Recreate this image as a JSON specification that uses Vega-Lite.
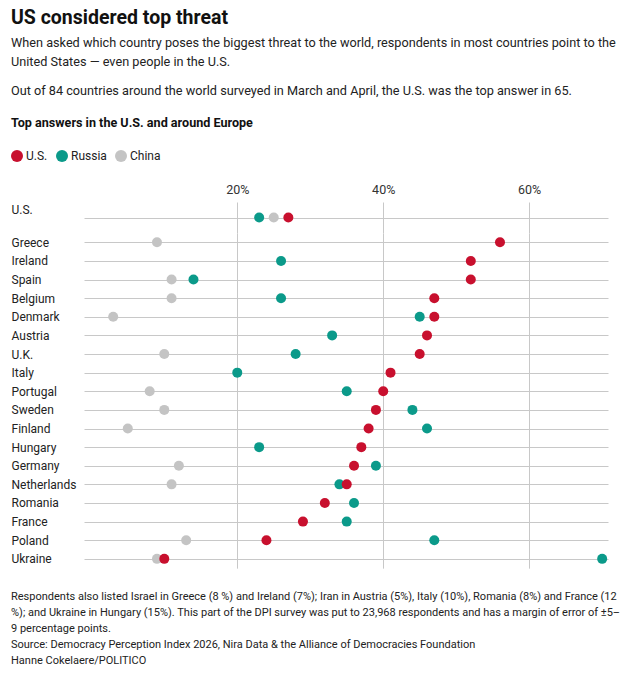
{
  "$schema": "https://vega.github.io/schema/vega-lite/v6.json",
  "padding": {"left": 11, "top": 8, "right": 10, "bottom": 4},
  "title": {
    "text": "US considered top threat",
    "subtitle": [
      "When asked which country poses the biggest threat to the world, respondents in most countries point to the",
      "United States — even people in the U.S."
    ],
    "anchor": "start",
    "frame": "bounds",
    "font": "Roboto",
    "fontSize": 19.5,
    "fontWeight": "bold",
    "color": "#111111",
    "subtitleFont": "Roboto",
    "subtitleFontSize": 12.7,
    "subtitleColor": "#222222",
    "subtitleLineHeight": 19.5,
    "subtitlePadding": 8,
    "offset": 15
  },
  "datasets": {
    "threats": [
      {"country": "U.S.", "threat": "Russia", "pct": 23},
      {"country": "U.S.", "threat": "China", "pct": 25},
      {"country": "U.S.", "threat": "U.S.", "pct": 27},
      {"country": "Greece", "threat": "China", "pct": 9},
      {"country": "Greece", "threat": "U.S.", "pct": 56},
      {"country": "Ireland", "threat": "Russia", "pct": 26},
      {"country": "Ireland", "threat": "U.S.", "pct": 52},
      {"country": "Spain", "threat": "China", "pct": 11},
      {"country": "Spain", "threat": "Russia", "pct": 14},
      {"country": "Spain", "threat": "U.S.", "pct": 52},
      {"country": "Belgium", "threat": "China", "pct": 11},
      {"country": "Belgium", "threat": "Russia", "pct": 26},
      {"country": "Belgium", "threat": "U.S.", "pct": 47},
      {"country": "Denmark", "threat": "China", "pct": 3},
      {"country": "Denmark", "threat": "Russia", "pct": 45},
      {"country": "Denmark", "threat": "U.S.", "pct": 47},
      {"country": "Austria", "threat": "Russia", "pct": 33},
      {"country": "Austria", "threat": "U.S.", "pct": 46},
      {"country": "U.K.", "threat": "China", "pct": 10},
      {"country": "U.K.", "threat": "Russia", "pct": 28},
      {"country": "U.K.", "threat": "U.S.", "pct": 45},
      {"country": "Italy", "threat": "Russia", "pct": 20},
      {"country": "Italy", "threat": "U.S.", "pct": 41},
      {"country": "Portugal", "threat": "China", "pct": 8},
      {"country": "Portugal", "threat": "Russia", "pct": 35},
      {"country": "Portugal", "threat": "U.S.", "pct": 40},
      {"country": "Sweden", "threat": "China", "pct": 10},
      {"country": "Sweden", "threat": "Russia", "pct": 44},
      {"country": "Sweden", "threat": "U.S.", "pct": 39},
      {"country": "Finland", "threat": "China", "pct": 5},
      {"country": "Finland", "threat": "Russia", "pct": 46},
      {"country": "Finland", "threat": "U.S.", "pct": 38},
      {"country": "Hungary", "threat": "Russia", "pct": 23},
      {"country": "Hungary", "threat": "U.S.", "pct": 37},
      {"country": "Germany", "threat": "China", "pct": 12},
      {"country": "Germany", "threat": "Russia", "pct": 39},
      {"country": "Germany", "threat": "U.S.", "pct": 36},
      {"country": "Netherlands", "threat": "China", "pct": 11},
      {"country": "Netherlands", "threat": "Russia", "pct": 34},
      {"country": "Netherlands", "threat": "U.S.", "pct": 35},
      {"country": "Romania", "threat": "Russia", "pct": 36},
      {"country": "Romania", "threat": "U.S.", "pct": 32},
      {"country": "France", "threat": "Russia", "pct": 35},
      {"country": "France", "threat": "U.S.", "pct": 29},
      {"country": "Poland", "threat": "China", "pct": 13},
      {"country": "Poland", "threat": "Russia", "pct": 47},
      {"country": "Poland", "threat": "U.S.", "pct": 24},
      {"country": "Ukraine", "threat": "China", "pct": 9},
      {"country": "Ukraine", "threat": "Russia", "pct": 70},
      {"country": "Ukraine", "threat": "U.S.", "pct": 10}
    ]
  },
  "vconcat": [
    {
      "title": {
        "text": "Out of 84 countries around the world surveyed in March and April, the U.S. was the top answer in 65.",
        "subtitle": "Top answers in the U.S. and around Europe",
        "anchor": "start",
        "frame": "bounds",
        "font": "Roboto",
        "fontSize": 12.7,
        "fontWeight": "normal",
        "color": "#222222",
        "subtitleFont": "Roboto",
        "subtitleFontSize": 12.6,
        "subtitleFontWeight": "bold",
        "subtitleColor": "#111111",
        "subtitlePadding": 20,
        "offset": 20
      },
      "width": 524,
      "height": 31,
      "data": {"name": "threats"},
      "transform": [{"filter": "datum.country === 'U.S.'"}],
      "mark": {"type": "circle", "size": 100, "opacity": 1},
      "encoding": {
        "x": {
          "field": "pct",
          "type": "quantitative",
          "scale": {"domain": [-1, 70.8], "nice": false, "zero": false},
          "axis": {
            "orient": "top",
            "values": [20, 40, 60],
            "labelExpr": "datum.value + '%'",
            "ticks": false,
            "domain": false,
            "grid": true,
            "gridColor": "#c8c8c8",
            "labelPadding": 6,
            "labelFont": "Roboto",
            "labelFontSize": 12.5,
            "labelColor": "#333333",
            "title": null
          }
        },
        "y": {
          "field": "country",
          "type": "nominal",
          "scale": {"type": "point", "padding": 0.5},
          "axis": {
            "labelAlign": "left",
            "labelPadding": 73,
            "labelOffset": -8,
            "labelFont": "Roboto",
            "labelFontSize": 12,
            "labelColor": "#222222",
            "ticks": false,
            "domain": false,
            "grid": true,
            "gridColor": "#c8c8c8",
            "title": null
          }
        },
        "color": {
          "field": "threat",
          "type": "nominal",
          "scale": {"domain": ["U.S.", "Russia", "China"], "range": ["#c8102e", "#0b9a8a", "#c4c4c4"]},
          "legend": {
            "orient": "none",
            "legendX": -73,
            "legendY": -52,
            "direction": "horizontal",
            "title": null,
            "symbolType": "circle",
            "symbolSize": 144,
            "symbolStrokeWidth": 0,
            "symbolOpacity": 1,
            "labelFont": "Roboto",
            "labelFontSize": 12,
            "labelColor": "#222222",
            "labelOffset": 3,
            "columnPadding": 8
          }
        }
      }
    },
    {
      "title": {
        "text": [
          "Respondents also listed Israel in Greece (8 %) and Ireland (7%); Iran in Austria (5%), Italy (10%), Romania (8%) and France (12",
          "%); and Ukraine in Hungary (15%). This part of the DPI survey was put to 23,968 respondents and has a margin of error of ±5–",
          "9 percentage points.",
          "Source: Democracy Perception Index 2026, Nira Data & the Alliance of Democracies Foundation",
          "Hanne Cokelaere/POLITICO"
        ],
        "orient": "bottom",
        "anchor": "start",
        "frame": "bounds",
        "font": "Roboto",
        "fontSize": 11,
        "fontWeight": "normal",
        "color": "#222222",
        "lineHeight": 16,
        "offset": 23
      },
      "width": 524,
      "height": {"step": 18.62},
      "data": {"name": "threats"},
      "transform": [{"filter": "datum.country !== 'U.S.'"}],
      "mark": {"type": "circle", "size": 100, "opacity": 1},
      "encoding": {
        "x": {
          "field": "pct",
          "type": "quantitative",
          "scale": {"domain": [-1, 70.8], "nice": false, "zero": false},
          "axis": {
            "values": [20, 40, 60],
            "labels": false,
            "ticks": false,
            "domain": false,
            "grid": true,
            "gridColor": "#c8c8c8",
            "title": null
          }
        },
        "y": {
          "field": "country",
          "type": "nominal",
          "sort": ["Greece", "Ireland", "Spain", "Belgium", "Denmark", "Austria", "U.K.", "Italy", "Portugal", "Sweden", "Finland", "Hungary", "Germany", "Netherlands", "Romania", "France", "Poland", "Ukraine"],
          "scale": {"type": "point", "padding": 0.5},
          "axis": {
            "labelAlign": "left",
            "labelPadding": 73,
            "labelFont": "Roboto",
            "labelFontSize": 12,
            "labelColor": "#222222",
            "ticks": false,
            "domain": false,
            "grid": true,
            "gridColor": "#c8c8c8",
            "title": null
          }
        },
        "color": {
          "field": "threat",
          "type": "nominal",
          "scale": {"domain": ["U.S.", "Russia", "China"], "range": ["#c8102e", "#0b9a8a", "#c4c4c4"]},
          "legend": null
        }
      }
    }
  ],
  "spacing": 0,
  "resolve": {"legend": {"color": "independent"}},
  "config": {
    "view": {"stroke": null},
    "font": "Roboto",
    "background": "white"
  }
}
